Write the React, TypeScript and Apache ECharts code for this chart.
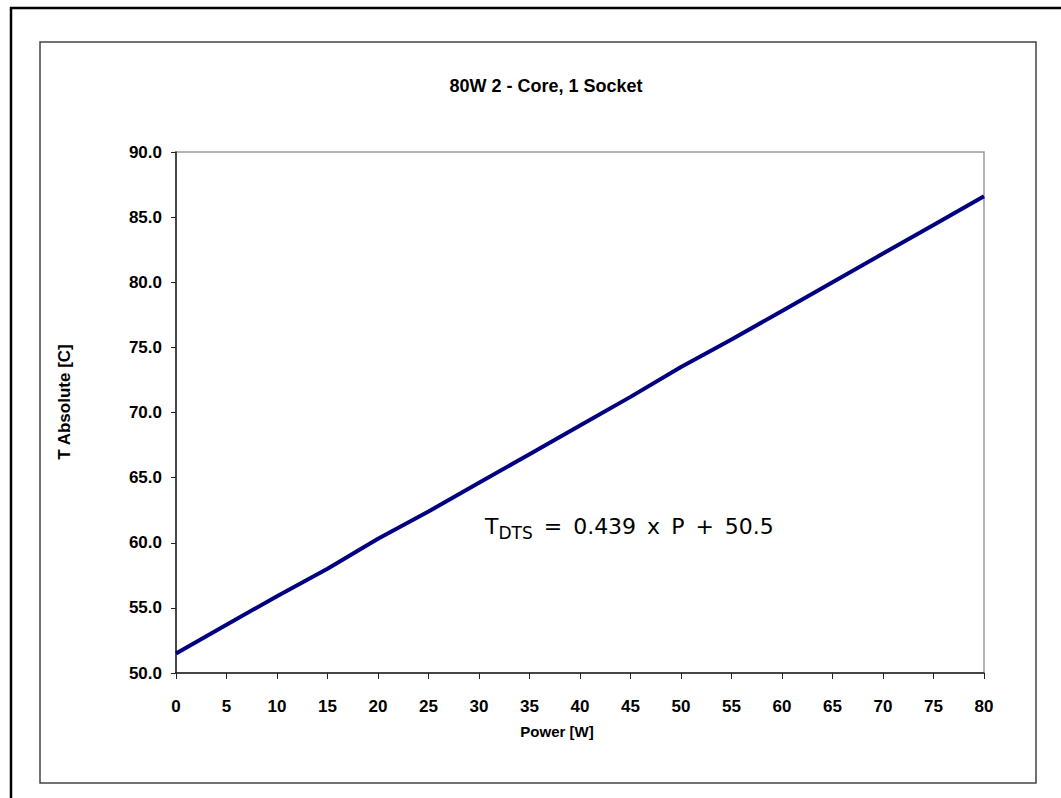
import React, { useEffect, useRef } from "react";
import * as echarts from "echarts";

const powerW: number[] = [0, 5, 10, 15, 20, 25, 30, 35, 40, 45, 50, 55, 60, 65, 70, 75, 80];
const tAbsolute: number[] = [51.5, 53.7, 55.9, 58.0, 60.3, 62.4, 64.6, 66.8, 69.0, 71.2, 73.5, 75.6, 77.8, 80.0, 82.2, 84.4, 86.6];
const titleText = "80W 2 - Core, 1 Socket";
const xAxisName = "Power [W]";
const yAxisName = "T Absolute [C]";
const equationMain = "\u2002=\u20020.439\u2002x\u2002P\u2002+\u200250.5";

const arial = "'Liberation Sans', Arial, sans-serif";
const verdana = "'DejaVu Sans', Verdana, sans-serif";

export default function App() {
  const ref = useRef<HTMLDivElement>(null);
  useEffect(() => {
    if (!ref.current) return;
    const chart = echarts.init(ref.current, undefined, { renderer: "svg" });
    chart.setOption({
      animation: false,
      backgroundColor: "#ffffff",
      grid: {
        left: 176,
        top: 152,
        right: 1061 - 984,
        bottom: 798 - 673,
        show: true,
        borderColor: "#9a9a9a",
        borderWidth: 1.5,
      },
      xAxis: {
        type: "value",
        min: 0,
        max: 80,
        interval: 5,
        axisLine: { show: true, onZero: false, lineStyle: { color: "#222", width: 1.5 } },
        axisTick: { show: true, inside: false, length: 6, lineStyle: { color: "#222" } },
        axisLabel: { margin: 25, fontFamily: arial, fontWeight: "bold", fontSize: 17, color: "#000" },
        splitLine: { show: false },
      },
      yAxis: {
        type: "value",
        min: 50,
        max: 90,
        interval: 5,
        axisLine: { show: true, onZero: false, lineStyle: { color: "#222", width: 1.5 } },
        axisTick: { show: true, inside: false, length: 5, lineStyle: { color: "#222" } },
        axisLabel: {
          margin: 14,
          fontFamily: arial,
          fontWeight: "bold",
          fontSize: 17,
          color: "#000",
          formatter: (v: number) => v.toFixed(1),
        },
        splitLine: { show: false },
      },
      series: [
        {
          type: "line",
          data: powerW.map((p, i) => [p, tAbsolute[i]]),
          showSymbol: false,
          symbol: "none",
          lineStyle: { color: "#000080", width: 4 },
        },
      ],
      graphic: [
        { type: "line", shape: { x1: 10, y1: 8, x2: 1061, y2: 8 }, style: { stroke: "#000", lineWidth: 2.5 } },
        { type: "line", shape: { x1: 11, y1: 7, x2: 11, y2: 798 }, style: { stroke: "#000", lineWidth: 2.5 } },
        {
          type: "rect",
          shape: { x: 40, y: 42, width: 996, height: 741 },
          style: { fill: "none", stroke: "#444", lineWidth: 1.5 },
          z: -1,
        },
        {
          type: "text",
          x: 546,
          y: 86,
          style: {
            text: titleText,
            fontFamily: arial,
            fontWeight: "bold",
            fontSize: 18,
            fill: "#000",
            align: "center",
            verticalAlign: "middle",
          },
        },
        {
          type: "text",
          x: 557,
          y: 731,
          style: {
            text: xAxisName,
            fontFamily: arial,
            fontWeight: "bold",
            fontSize: 15,
            fill: "#000",
            align: "center",
            verticalAlign: "middle",
          },
        },
        {
          type: "text",
          x: 64,
          y: 402,
          rotation: Math.PI / 2,
          style: {
            text: yAxisName,
            fontFamily: arial,
            fontWeight: "bold",
            fontSize: 17,
            fill: "#000",
            align: "center",
            verticalAlign: "middle",
          },
        },
        {
          type: "text",
          x: 485,
          y: 526,
          style: {
            text: "{a|T}{b|DTS}{a|" + equationMain + "}",
            fontFamily: verdana,
            fill: "#000",
            align: "left",
            verticalAlign: "middle",
            rich: {
              a: { fontFamily: verdana, fontSize: 22, fill: "#000" },
              b: { fontFamily: verdana, fontSize: 17, fill: "#000", padding: [13, 0, 0, 0] },
            },
          },
        },
      ],
    });
    return () => chart.dispose();
  }, []);
  return (
    <div
      ref={ref}
      style={{ position: "absolute", left: 0, top: 0, width: 1061, height: 798, background: "#fff" }}
    />
  );
}
